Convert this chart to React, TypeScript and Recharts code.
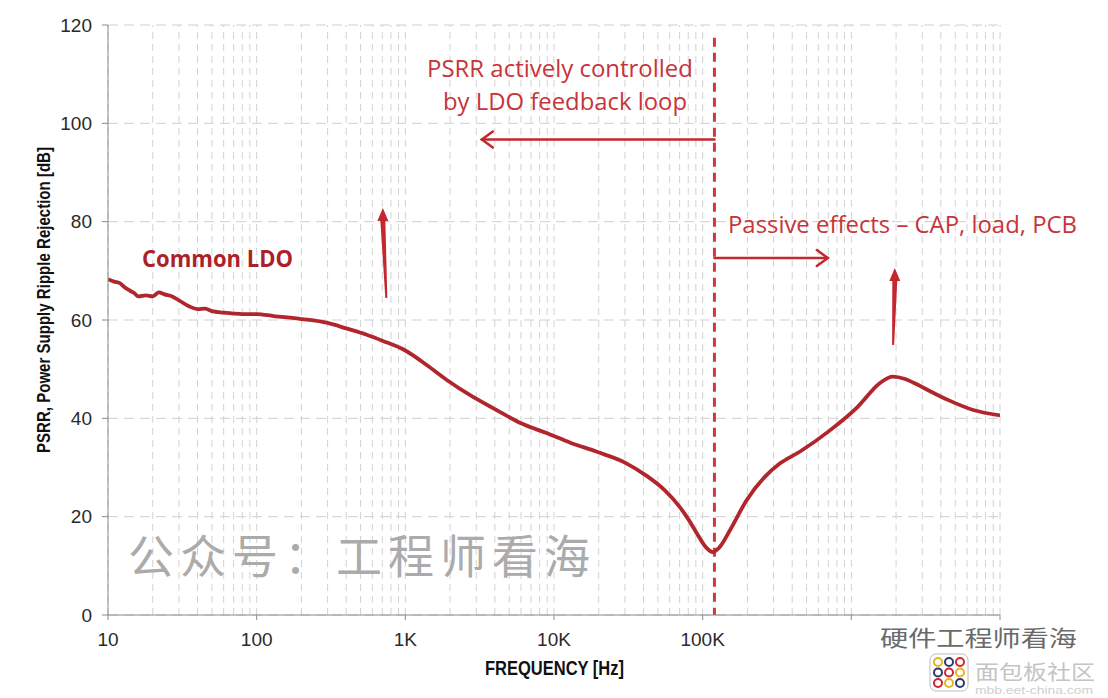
import React from 'react';
import { LineChart, Line, XAxis, YAxis, CartesianGrid, ReferenceLine } from 'recharts';

// measured PSRR curve
const FREQ = [
  10, 11, 12, 13, 14, 15, 16, 18, 20, 22, 24, 27, 30, 35, 40, 45, 50, 60, 70, 80, 100, 130, 200, 300, 400, 550, 700,
  1000, 1400, 1900, 2800, 4100, 6000, 8900, 13000, 19400, 30000, 42000, 55000, 70000, 80000, 91000, 105000, 117000,
  130000, 153000, 198000, 260000, 330000, 455000, 714000, 1100000, 1560000, 1900000, 2300000, 2600000, 3500000,
  4500000, 6600000, 10000000,
];
const PSRR = [
  68.3, 67.8, 67.5, 66.6, 66.0, 65.5, 64.8, 65.0, 64.8, 65.6, 65.2, 64.8, 64.0, 62.8, 62.2, 62.3, 61.8, 61.5, 61.3, 61.2,
  61.2, 60.8, 60.2, 59.4, 58.3, 57.0, 55.8, 53.8, 50.8, 47.8, 44.5, 41.7, 39.0, 37.0, 35.0, 33.2, 31.0, 28.3, 25.5,
  22.0, 19.5, 16.7, 13.8, 12.8, 13.8, 17.3, 23.4, 28.0, 30.8, 33.3, 37.5, 42.3, 47.2, 48.5, 48.0, 47.3, 45.3, 43.7,
  41.7, 40.6,
];

const X_TICKS = [10, 100, 1000, 10000, 100000, 1000000, 10000000];
const X_LABELS = ['10', '100', '1K', '10K', '100K', '', ''];
const Y_TICKS = [0, 20, 40, 60, 80, 100, 120];

// log grid: 1..9 x each decade
const DECADES = [10, 100, 1000, 10000, 100000, 1000000];
const MULTS = [1, 2, 3, 4, 5, 6, 7, 8, 9];

const LOOP_EDGE = 120000; // boundary between active/passive region

const rows = FREQ.map((f, i) => ({ f, db: PSRR[i] }));
const gridX = [...DECADES.flatMap((d) => MULTS.map((m) => d * m)), 10000000];

const RED = '#c3282f';
const labelFor = (v: number) => X_LABELS[X_TICKS.indexOf(v)] ?? '';

const HArrow = (p: any) => {
  const { x1, y1, x2, y2 } = p;
  const dir = x2 < x1 ? 1 : -1;
  return (
    <g stroke={RED} strokeWidth={2.5} fill="none" strokeLinecap="round">
      <line x1={x1} y1={y1} x2={x2} y2={y2} />
      <polyline points={`${x2 + dir * 11},${y2 - 8} ${x2},${y2} ${x2 + dir * 11},${y2 + 8}`} />
    </g>
  );
};

// tapered upward arrow, (x1,y1) tip, (x2,y2) tail
const UpArrow = (p: any) => {
  const { x1, y1, x2, y2 } = p;
  const headH = 13;
  const pts = [
    [x2 - 1, y2],
    [x1 - 2.5, y1 + headH],
    [x1 - 5.5, y1 + headH],
    [x1, y1],
    [x1 + 5.5, y1 + headH],
    [x1 + 2.5, y1 + headH],
    [x2 + 1, y2],
  ]
    .map((q) => q.join(','))
    .join(' ');
  return <polygon points={pts} fill={RED} stroke="none" />;
};

const App: React.FC = () => {
  return (
    <div style={{ position: 'absolute', left: 0, top: 0, width: 1108, height: 698, background: '#fff' }}>
      <LineChart width={1108} height={698} data={rows} margin={{ top: 25, right: 108, bottom: 0, left: 48 }}>
        <CartesianGrid vertical={false} stroke="#cfcfcf" strokeDasharray="10 6" />
        {gridX.map((g) => (
          <ReferenceLine key={g} x={g} stroke="#d2d2d2" strokeDasharray="7 5" strokeWidth={1} />
        ))}
        <XAxis
          dataKey="f"
          type="number"
          scale="log"
          domain={[10, 10000000]}
          ticks={X_TICKS}
          tickFormatter={labelFor}
          interval={0}
          height={83}
          stroke="#8a8a8a"
          tickSize={5}
          tickMargin={13}
          tick={{ fill: '#2a2a2a', fontSize: 19, fontFamily: 'Liberation Sans' }}
          allowDataOverflow
        />
        <YAxis
          type="number"
          domain={[0, 120]}
          ticks={Y_TICKS}
          width={60}
          stroke="#8a8a8a"
          tickSize={6}
          tickMargin={10}
          tick={{ fill: '#2a2a2a', fontSize: 19, fontFamily: 'Liberation Sans' }}
        />
        <ReferenceLine
          segment={[{ x: LOOP_EDGE, y: 117.4 }, { x: LOOP_EDGE, y: 0 }]}
          stroke="#cc3a40"
          strokeWidth={3}
          strokeDasharray="9 6"
        />
        <ReferenceLine segment={[{ x: LOOP_EDGE, y: 96.7 }, { x: 3270, y: 96.7 }]} shape={HArrow} />
        <ReferenceLine segment={[{ x: LOOP_EDGE, y: 72.6 }, { x: 695000, y: 72.6 }]} shape={HArrow} />
        <ReferenceLine segment={[{ x: 706, y: 82.8 }, { x: 745, y: 64.5 }]} shape={UpArrow} />
        <ReferenceLine segment={[{ x: 1960000, y: 70.6 }, { x: 1910000, y: 54.9 }]} shape={UpArrow} />
        <Line
          type="monotone"
          dataKey="db"
          stroke="#b0262c"
          strokeWidth={3.8}
          dot={false}
          isAnimationActive={false}
        />
      </LineChart>
      <svg
        width={1108}
        height={698}
        style={{ position: 'absolute', left: 0, top: 0, pointerEvents: 'none' }}
      >
        <g fontFamily="'Open Sans', sans-serif" fill="#c7343a" fontSize={23}>
          <text x={427} y={77} textLength={266} lengthAdjust="spacingAndGlyphs">PSRR actively controlled</text>
          <text x={443} y={110} textLength={244} lengthAdjust="spacingAndGlyphs">by LDO feedback loop</text>
          <text x={728} y={233} textLength={349} lengthAdjust="spacingAndGlyphs">Passive effects – CAP, load, PCB</text>
        </g>
        <text x={142} y={267} fontFamily="'Open Sans', sans-serif" fontWeight="bold" fontSize={24} fill="#ad1f29"
          textLength={151} lengthAdjust="spacingAndGlyphs">Common LDO</text>
        <text
          transform="translate(50,300) rotate(-90)"
          textAnchor="middle"
          fontFamily="'Liberation Sans Narrow', 'Liberation Sans', sans-serif"
          fontWeight="bold"
          fontSize={19}
          fill="#111"
          textLength={306}
          lengthAdjust="spacingAndGlyphs"
        >
          PSRR, Power Supply Ripple Rejection [dB]
        </text>
        <text x={485} y={675} fontFamily="'Liberation Sans Narrow', 'Liberation Sans', sans-serif" fontWeight="bold"
          fontSize={20} fill="#111" textLength={139} lengthAdjust="spacingAndGlyphs">FREQUENCY [Hz]</text>
        <text x={128} y={573} fontFamily="'Noto Sans CJK SC'" fontSize={46} fill="#ababab"
          textLength={462} lengthAdjust="spacing">公众号：工程师看海</text>
        <text x={880} y={646} fontFamily="'Noto Sans CJK SC'" fontSize={22} fill="#6a6a6a"
          textLength={197} lengthAdjust="spacingAndGlyphs">硬件工程师看海</text>
        <rect x={930} y={654} width={38} height={37} rx={6} fill="#fff" stroke="#bbb" />
        {[0, 1, 2].map((r) =>
          [0, 1, 2].map((c) => (
            <circle key={`${r}-${c}`} cx={938 + c * 11} cy={662 + r * 10.5} r={4} fill="none" strokeWidth={2}
              stroke={['#e8b41f', '#2b3a6b', '#d0262e'][(r + c) % 3]} />
          ))
        )}
        <text x={975} y={680} fontFamily="'Noto Sans CJK SC'" fontSize={20} fill="#c4c4c4"
          textLength={120} lengthAdjust="spacingAndGlyphs">面包板社区</text>
        <text x={975} y={694} fontFamily="'Liberation Sans'" fontSize={10} fill="#cfcfcf"
          textLength={118} lengthAdjust="spacingAndGlyphs">mbb.eet-china.com</text>
      </svg>
    </div>
  );
};

export default App;
